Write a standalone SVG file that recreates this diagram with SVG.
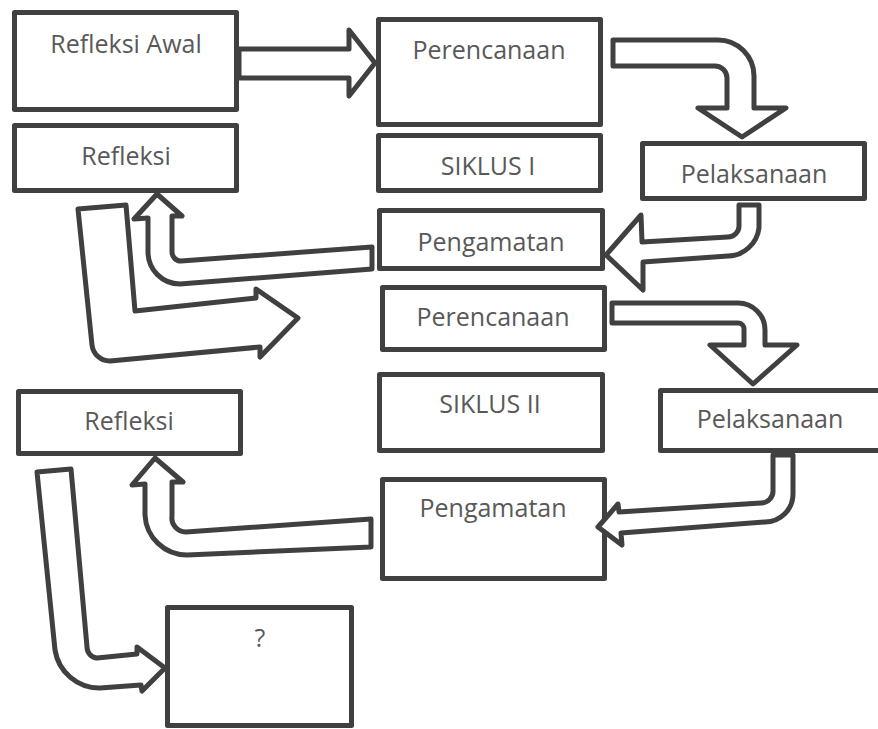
<svg xmlns="http://www.w3.org/2000/svg" width="878" height="729" viewBox="0 0 878 729">
<style>
.box{fill:#ffffff;stroke:#404040;stroke-width:5;stroke-linejoin:round}
.arr{fill:#ffffff;stroke:#404040;stroke-width:5;stroke-linejoin:round}
.t{font-family:"Open Sans","Noto Sans",sans-serif;font-size:25px;fill:#595959;text-anchor:middle}
</style>
<rect width="878" height="729" fill="#ffffff"/>
<g id="n-refleksi-awal"><rect class="box" x="14.5" y="12.5" width="222" height="97"/><text class="t" x="126" y="53">Refleksi Awal</text></g>
<g id="n-refleksi-1"><rect class="box" x="14.5" y="125.5" width="222" height="65"/><text class="t" x="126" y="165">Refleksi</text></g>
<g id="n-perencanaan-1"><rect class="box" x="378.5" y="19.5" width="222" height="105"/><text class="t" x="489" y="59">Perencanaan</text></g>
<g id="n-siklus-1"><rect class="box" x="378.5" y="135.5" width="222" height="55"/><text class="t" x="488" y="175">SIKLUS I</text></g>
<g id="n-pelaksanaan-1"><rect class="box" x="642.5" y="143.5" width="222" height="55"/><text class="t" x="754" y="183">Pelaksanaan</text></g>
<g id="n-pengamatan-1"><rect class="box" x="379.5" y="210.5" width="223" height="58"/><text class="t" x="491" y="251">Pengamatan</text></g>
<g id="n-perencanaan-2"><rect class="box" x="382.5" y="287.5" width="222" height="62"/><text class="t" x="493" y="326">Perencanaan</text></g>
<g id="n-siklus-2"><rect class="box" x="379.5" y="374.5" width="223" height="76"/><text class="t" x="490" y="413">SIKLUS II</text></g>
<g id="n-pelaksanaan-2"><rect class="box" x="660.5" y="390.5" width="222" height="60"/><text class="t" x="770" y="428">Pelaksanaan</text></g>
<g id="n-pengamatan-2"><rect class="box" x="382.5" y="479.5" width="222" height="99"/><text class="t" x="493" y="517">Pengamatan</text></g>
<g id="n-refleksi-2"><rect class="box" x="18.5" y="391.5" width="222" height="62"/><text class="t" x="129" y="430">Refleksi</text></g>
<g id="n-question"><rect class="box" x="167.5" y="607.5" width="184" height="118"/><text class="t" x="260" y="647">?</text></g>
<g id="connectors">
<path class="arr" d="M239,49 L349,49 L349,30 L375,63 L349,96 L349,78 L239,78 Z"/>
<path class="arr" d="M613,40 L718,40 A36,36 0 0 1 754,76 L754,108 L786,108 L742,137 L698,108 L727,108 L727,78 A12,12 0 0 0 715,66 L613,66 Z"/>
<path class="arr" d="M739,205 L739,226 A11,11 0 0 1 728,237 L642,242 L641,215 L606,255 L643,290 L643,262 L728,256 A32,32 0 0 0 759,228 L759,205 Z"/>
<path class="arr" d="M372,247 L372,269 L180,284 A32,32 0 0 1 148,252 L148,218 L134,219 L157,194 L182,216 L172,216 L172,252 A9,9 0 0 0 181,261 Z"/>
<path class="arr" d="M78,209 L126,205 L135,311 L256,298 L256,289 L298,318 L260,357 L260,347 L110,361 A18,18 0 0 1 92,345 Z"/>
<path class="arr" d="M612,303 L738,303 A27,27 0 0 1 765,330 L765,345 L797,345 L753,384 L710,345 L744,345 L744,329 A6,6 0 0 0 738,323 L612,323 Z"/>
<path class="arr" d="M773,455 L773,490 A12,12 0 0 1 761,503 L619,512 L618,504 L598,527 L622,545 L621,533 L765,522 A28,28 0 0 0 793,494 L793,455 Z"/>
<path class="arr" d="M371,519 L371,547 L187,555 A42,42 0 0 1 145,515 L145,484 L132,485 L155,458 L183,482 L172,482 L172,516 A14,14 0 0 0 186,532 Z"/>
<path class="arr" d="M37,472 L71,469 L87,647 A11,11 0 0 0 97,658 L137,654 L137,647 L165,668 L142,691 L141,685 L100,688 A45,45 0 0 1 55,650 Z"/>
</g>
</svg>
